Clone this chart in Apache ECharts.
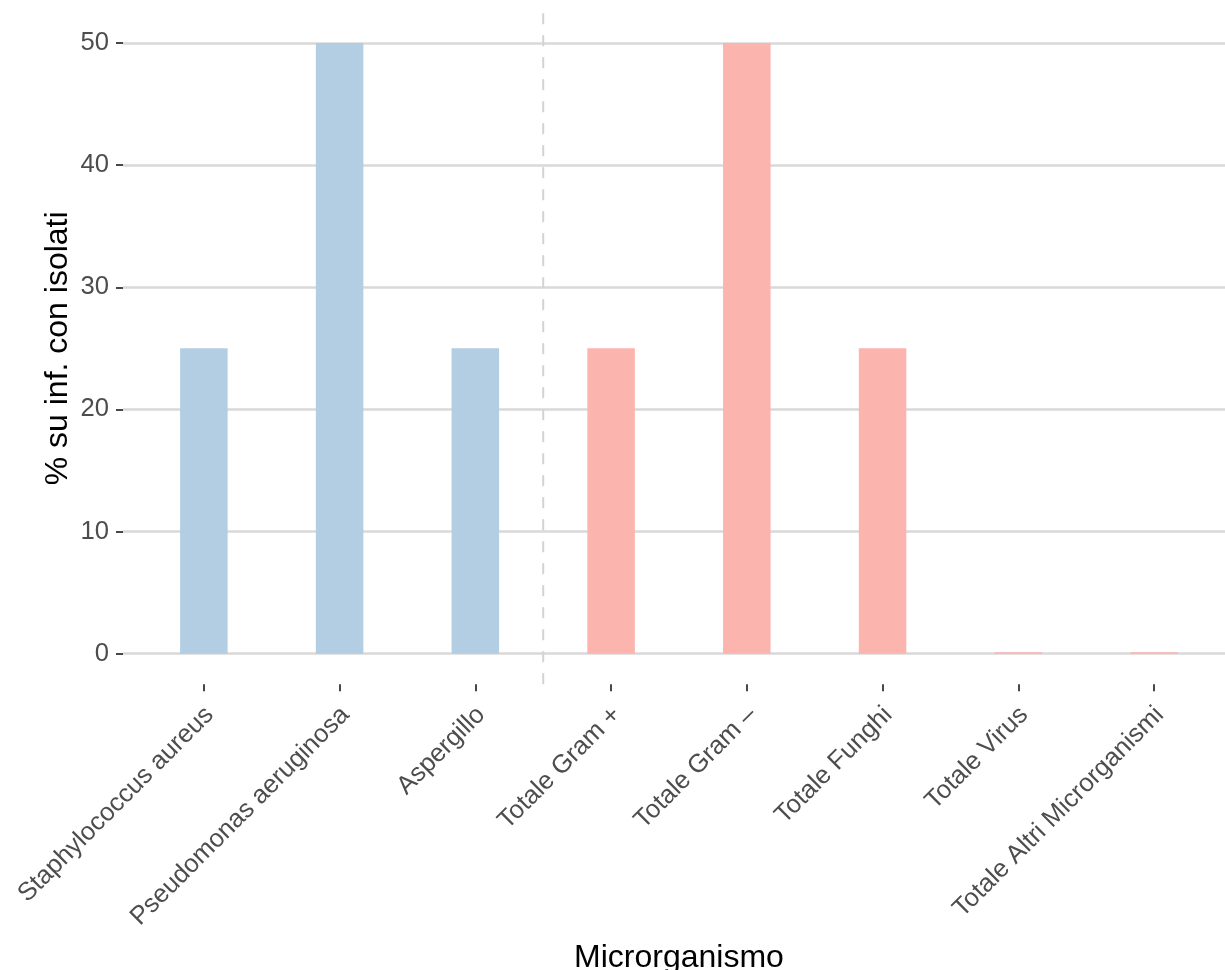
<!DOCTYPE html>
<html>
<head>
<meta charset="utf-8">
<script src="https://cdn.jsdelivr.net/npm/echarts@6/dist/echarts.min.js"></script>
<style>
html,body{margin:0;padding:0;background:#fff;}
#c{width:1225px;height:970px;}
</style>
</head>
<body>
<div id="c"></div>
<script>
const categories = ['Staphylococcus aureus','Pseudomonas aeruginosa','Aspergillo','Totale Gram +','Totale Gram –','Totale Funghi','Totale Virus','Totale Altri Microrganismi'];
const values = [25, 50, 25, 25, 50, 25, 0, 0];
const groups = ['specie','specie','specie','totale','totale','totale','totale','totale'];
const yTicks = [0, 10, 20, 30, 40, 50];
const separatorAt = 2.5; // between "Aspergillo" and "Totale Gram +"

const groupColors = {specie:'#b3cde3', totale:'#fbb4ae'};
const FONT = 'Liberation Sans, Arial, sans-serif';
const yMin = -2.5, yMax = 52.5;

const chart = echarts.init(document.getElementById('c'), null, {renderer:'canvas'});
chart.setOption({
  animation:false,
  backgroundColor:'#ffffff',
  grid:[
    {left:136, right:3.1, top:12.5, bottom:285.8, containLabel:false, outerBoundsMode:'none'},
    {left:123, right:0, top:43, bottom:316.3, containLabel:false, outerBoundsMode:'none'}
  ],
  xAxis:[
    {gridIndex:0, type:'category', data:categories, boundaryGap:true,
     axisLine:{show:false, onZero:false},
     axisTick:{show:true, alignWithLabel:true, length:7, lineStyle:{color:'#333333', width:1.8}},
     axisLabel:{rotate:45, margin:14, align:'right', verticalAlign:'top', padding:[0,5,0,0],
       fontSize:25.6, color:'#4d4d4d', fontFamily:FONT, interval:0},
     splitLine:{show:false},
     name:'Microrganismo', nameLocation:'middle', nameGap:258, nameMoveOverlap:false,
     nameTextStyle:{fontSize:32, color:'#000000', fontFamily:FONT}
    },
    {gridIndex:1, type:'value', show:false, min:0, max:1},
    {gridIndex:0, type:'value', show:false, min:-0.5, max:categories.length-0.5}
  ],
  yAxis:[
    {gridIndex:0, type:'value', min:yMin, max:yMax, show:false},
    {gridIndex:1, type:'value', min:0, max:50, interval:10,
     axisLine:{show:false},
     axisTick:{show:true, length:7, lineStyle:{color:'#333333', width:1.8}},
     axisLabel:{margin:14, fontSize:25.6, color:'#4d4d4d', fontFamily:FONT,
       formatter:function(v){ return yTicks.indexOf(v) >= 0 ? String(v) : ''; }},
     splitLine:{show:true, lineStyle:{color:'#d9d9d9', width:2.6}},
     name:'% su inf. con isolati', nameLocation:'middle', nameGap:49, nameRotate:90, nameMoveOverlap:false,
     nameTextStyle:{fontSize:32, color:'#000000', fontFamily:FONT}
    }
  ],
  series:[
    {type:'line', xAxisIndex:2, yAxisIndex:0, symbol:'none', silent:true, z:1,
     lineStyle:{color:'#d3d3d3', type:[11,11], width:2},
     data:[[separatorAt, yMin],[separatorAt, yMax]]
    },
    {type:'bar', xAxisIndex:0, yAxisIndex:0, barWidth:'35%', barMinHeight:1.5, z:2,
     data: values.map((v,i)=>({value:v, itemStyle:{color:groupColors[groups[i]]}}))
    }
  ]
});
</script>
</body>
</html>
